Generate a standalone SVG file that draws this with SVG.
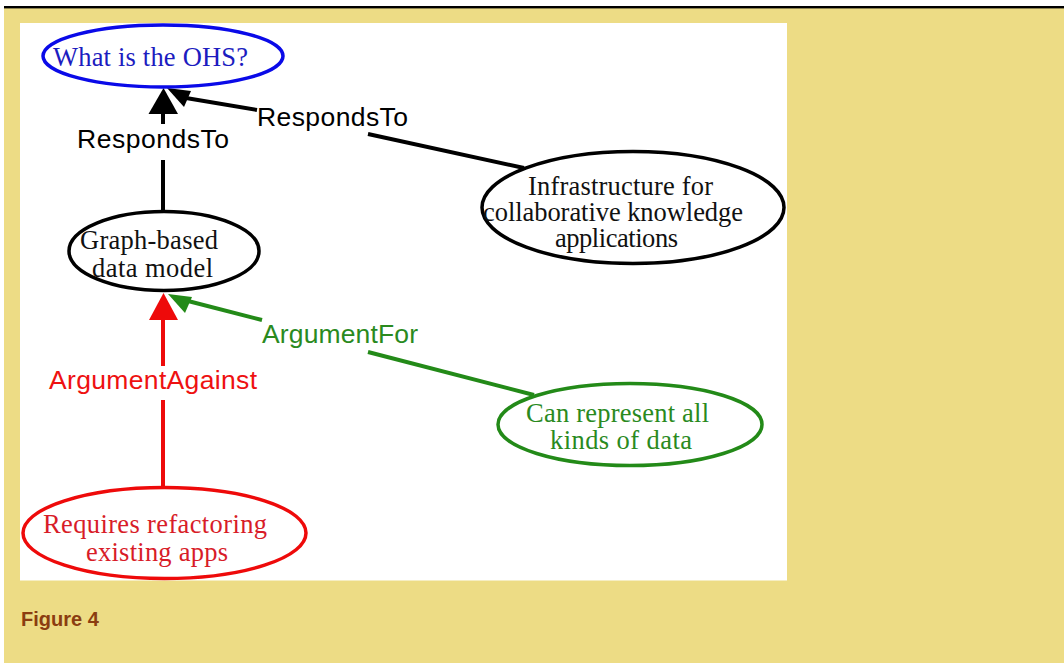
<svg xmlns="http://www.w3.org/2000/svg" width="1064" height="663" viewBox="0 0 1064 663">
<style>
.node{fill:#fff;stroke-width:3.5}
.nt{font-family:"Liberation Serif","Times New Roman",serif;font-size:26.5px}
.el{font-family:"Liberation Sans",Arial,sans-serif;font-size:26.5px}
.k{stroke:#000;fill:none;stroke-width:4}
.r{stroke:#ee0a0a;fill:none;stroke-width:4}
.g{stroke:#238a18;fill:none;stroke-width:4}
</style>
<rect x="0" y="0" width="1064" height="663" fill="#fff"/>
<rect x="4" y="8" width="1060" height="655" fill="#eddc85"/>
<rect x="4" y="6" width="1060" height="2.4" fill="#000"/>
<rect x="20" y="23" width="767" height="557.5" fill="#fff"/>
<g id="connectors">
  <g id="e1">
    <line class="k" x1="163" y1="112" x2="163" y2="124"/>
    <line class="k" x1="163" y1="160" x2="163" y2="211"/>
    <polygon points="163.5,88 148.5,114 178,114" fill="#000"/>
    <text class="el" x="77" y="148" fill="#000" textLength="152">RespondsTo</text>
  </g>
  <g id="e2">
    <line class="k" x1="186" y1="98" x2="257" y2="110"/>
    <line class="k" x1="368" y1="134" x2="524" y2="168"/>
    <polygon points="167,88 191,91 184,107" fill="#000"/>
    <text class="el" x="257" y="126" fill="#000" textLength="151">RespondsTo</text>
  </g>
  <g id="e3">
    <line class="r" x1="163" y1="318" x2="163" y2="366"/>
    <line class="r" x1="163" y1="400" x2="163" y2="487"/>
    <polygon points="163.5,293 149,320 178,320" fill="#ee0a0a"/>
    <text class="el" x="49" y="389" fill="#ee1111" textLength="208">ArgumentAgainst</text>
  </g>
  <g id="e4">
    <line class="g" x1="188" y1="301" x2="262" y2="320"/>
    <line class="g" x1="368" y1="352" x2="534" y2="395"/>
    <polygon points="168,294 192,297 185,313" fill="#238a18"/>
    <text class="el" x="262" y="343" fill="#2a8a1e" textLength="156">ArgumentFor</text>
  </g>
</g>
<g id="n-ohs">
  <ellipse class="node" cx="163" cy="56" rx="120" ry="31" stroke="#0a0ae8" stroke-width="4"/>
  <text class="nt" x="53" y="66" fill="#1c1cc0" textLength="195">What is the OHS?</text>
</g>
<g id="n-graph">
  <ellipse class="node" cx="164" cy="251" rx="95" ry="39.5" stroke="#000"/>
  <text class="nt" x="80" y="249" fill="#111" textLength="138">Graph-based</text>
  <text class="nt" x="92" y="277" fill="#111" textLength="121">data model</text>
</g>
<g id="n-infra">
  <ellipse class="node" cx="633" cy="207.5" rx="151" ry="56" stroke="#000"/>
  <text class="nt" x="528" y="195" fill="#111" textLength="185">Infrastructure for</text>
  <text class="nt" x="483" y="221" fill="#111" textLength="260">collaborative knowledge</text>
  <text class="nt" x="555" y="247" fill="#111" textLength="123">applications</text>
</g>
<g id="n-can">
  <ellipse class="node" cx="630" cy="424.5" rx="132" ry="41" stroke="#238a18"/>
  <text class="nt" x="526" y="422" fill="#2a8a1e" textLength="183">Can represent all</text>
  <text class="nt" x="550" y="449" fill="#2a8a1e" textLength="142">kinds of data</text>
</g>
<g id="n-req">
  <ellipse class="node" cx="164.5" cy="533" rx="141.5" ry="45.5" stroke="#ee0a0a"/>
  <text class="nt" x="43" y="533" fill="#d81c28" textLength="224">Requires refactoring</text>
  <text class="nt" x="86" y="560.5" fill="#d81c28" textLength="142">existing apps</text>
</g>
<text x="21" y="626" font-family="Liberation Sans,Arial,sans-serif" font-weight="bold" font-size="20px" fill="#8b3d10">Figure 4</text>
</svg>
